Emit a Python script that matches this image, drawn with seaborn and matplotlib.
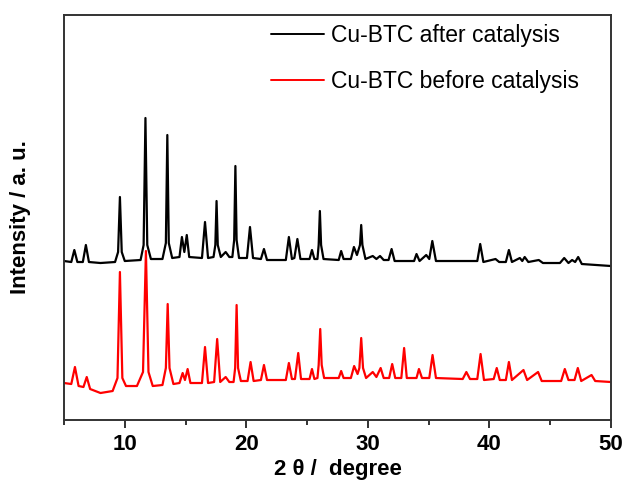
import matplotlib
matplotlib.use("Agg")
import matplotlib.pyplot as plt
import seaborn as sns
import pandas as pd
from matplotlib.ticker import MultipleLocator

# 2-theta positions and intensities (a.u.)
after_x = [5.0, 5.6, 5.85, 6.1, 6.55, 6.8, 7.05, 8.0, 9.2, 9.45, 9.6, 9.75, 10.0,
           11.3, 11.55, 11.7, 11.85, 12.15, 13.1, 13.38, 13.5, 13.62, 13.9, 14.5,
           14.7, 14.9, 15.1, 15.3, 16.35, 16.6, 16.85, 17.3, 17.45, 17.55, 17.65,
           17.9, 18.3, 18.6, 18.85, 19.0, 19.1, 19.2, 19.4, 20.05, 20.3, 20.55,
           21.2, 21.45, 21.7, 23.25, 23.5, 23.75, 23.95, 24.2, 24.45, 25.2, 25.4,
           25.6, 25.85, 25.95, 26.05, 26.15, 26.35, 27.6, 27.8, 28.0, 28.6, 28.85,
           29.1, 29.35, 29.45, 29.55, 29.8, 30.4, 30.7, 31.0, 31.3, 31.7, 31.95,
           32.2, 33.8, 34.0, 34.25, 34.8, 35.05, 35.3, 35.6, 37.0, 39.0, 39.24,
           39.5, 40.5, 40.8, 41.35, 41.6, 41.85, 42.5, 42.7, 42.9, 43.2, 44.06,
           44.4, 45.8, 46.15, 46.5, 46.8, 47.05, 47.3, 47.6, 50.0]
after_y = [159, 158, 170, 158, 158, 175, 158, 157, 158, 168, 223, 168, 159,
           160, 175, 302, 175, 161, 161, 177, 285, 177, 162, 163,
           183, 168, 185, 163, 162, 198, 162, 163, 175, 219, 175,
           163, 168, 163, 163, 180, 254, 180, 162, 162, 193, 162,
           161, 171, 160, 160, 183, 161, 162, 181, 161, 161, 170,
           161, 161, 175, 209, 175, 161, 160, 169, 161, 161, 173,
           165, 175, 195, 175, 161, 164, 161, 164, 160, 160, 171,
           159, 159, 166, 159, 165, 161, 179, 159, 159, 159, 176,
           158, 161, 158, 158, 170, 158, 162, 159, 163, 158, 160,
           157, 157, 162, 157, 160, 158, 163, 156, 154]

before_x = [5.0, 5.6, 5.9, 6.2, 6.6, 6.87, 7.15, 8.0, 9.0, 9.4, 9.6, 9.8, 10.1,
            11.0, 11.5, 11.74, 11.95, 12.3, 13.1, 13.38, 13.53, 13.68, 14.0,
            14.5, 14.76, 14.95, 15.17, 15.4, 16.35, 16.6, 16.85, 17.35, 17.6,
            17.85, 18.3, 18.6, 18.95, 19.08, 19.2, 19.32, 19.55, 20.1, 20.35,
            20.6, 21.2, 21.45, 21.7, 23.25, 23.5, 23.75, 24.0, 24.27, 24.5, 25.2,
            25.4, 25.6, 25.85, 25.95, 26.08, 26.2, 26.4, 27.6, 27.8, 28.0, 28.6,
            28.87, 29.15, 29.3, 29.45, 29.6, 29.85, 30.4, 30.7, 31.05, 31.3,
            31.75, 32.0, 32.25, 32.75, 32.98, 33.2, 34.0, 34.2, 34.45, 35.05,
            35.32, 35.6, 37.8, 38.1, 38.4, 39.0, 39.27, 39.55, 40.35, 40.6,
            40.85, 41.35, 41.6, 41.85, 42.8, 43.1, 44.0, 44.3, 45.9, 46.2, 46.5,
            47.0, 47.27, 47.55, 48.4, 48.7, 50.0]
before_y = [37, 36, 53, 34, 33, 43, 31, 27, 29, 42, 148, 42, 34,
            34, 48, 169, 48, 34, 35, 52, 116, 52, 36,
            37, 47, 40, 51, 37, 37, 73, 37, 38, 81,
            38, 43, 38, 38, 52, 115, 52, 39, 39, 58,
            39, 40, 55, 40, 40, 57, 41, 41, 67, 41, 41,
            51, 41, 42, 55, 91, 55, 42, 42, 49, 42, 42,
            54, 46, 52, 82, 52, 42, 48, 43, 52, 42,
            42, 56, 42, 42, 72, 42, 42, 51, 42, 42,
            65, 42, 41, 48, 41, 41, 66, 40, 41, 52,
            40, 40, 58, 40, 50, 40, 48, 39, 39, 51, 40,
            40, 52, 39, 45, 39, 38]

labels = ["Cu-BTC after catalysis", "Cu-BTC before catalysis"]
colors = ["black", "red"]

df = pd.concat([
    pd.DataFrame({"two_theta": after_x, "intensity": after_y, "sample": labels[0]}),
    pd.DataFrame({"two_theta": before_x, "intensity": before_y, "sample": labels[1]}),
], ignore_index=True)

sns.set_theme(style="ticks")
plt.rcParams["font.family"] = ["Liberation Sans", "DejaVu Sans"]
plt.rcParams["text.color"] = "black"
plt.rcParams["axes.labelcolor"] = "black"

fig = plt.figure(figsize=(6.25, 4.84), dpi=100)
ax = fig.add_axes([0.1024, 0.1322, 0.8752, 0.8368])

sns.lineplot(data=df, x="two_theta", y="intensity", hue="sample",
             hue_order=labels, palette=dict(zip(labels, colors)),
             estimator=None, sort=False, linewidth=1.6, ax=ax)

ax.set_xlim(5, 50)
ax.set_ylim(0, 405)
ax.xaxis.set_major_locator(MultipleLocator(10))
ax.xaxis.set_minor_locator(MultipleLocator(5))
ax.set_yticks([])
ax.tick_params(axis="x", which="major", direction="out", length=6, width=1.3,
               labelsize=16, pad=4, colors="#222222", labelcolor="black")
ax.tick_params(axis="x", which="minor", direction="out", length=3.5, width=1.3,
               colors="#222222")
for lab in ax.get_xticklabels():
    lab.set_fontweight("bold")
for s in ax.spines.values():
    s.set_linewidth(1.4)
    s.set_color("#333333")

ax.set_xlabel("2 θ /  degree", fontsize=16, fontweight="bold", labelpad=3)
ax.set_ylabel("Intensity / a. u.", fontsize=16, fontweight="bold", labelpad=24)

leg = ax.legend(loc="upper left", bbox_to_anchor=(0.37, 0.99), frameon=False,
                fontsize=16.5, handlelength=2.3, handletextpad=0.3,
                labelspacing=1.0, borderaxespad=0.0, borderpad=0.2)
for h in leg.get_lines():
    h.set_linewidth(1.4)
for t in leg.get_texts():
    t.set_color("black")

fig.savefig("out.png", dpi=100)
